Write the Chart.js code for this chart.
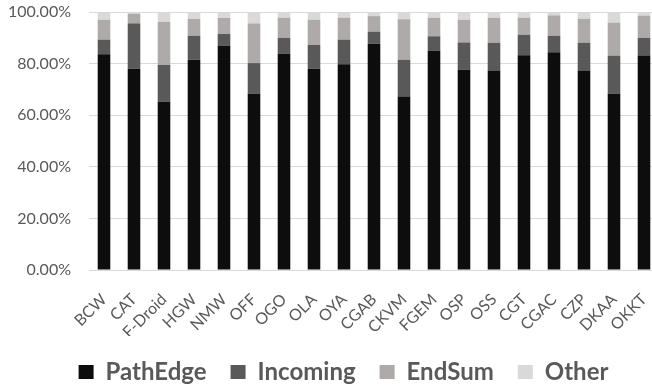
<!DOCTYPE html>
<html>
<head>
<meta charset="utf-8">
<script src="https://cdn.jsdelivr.net/npm/chart.js@4/dist/chart.umd.min.js"></script>
<style>
  html, body { margin: 0; padding: 0; background: #fff; overflow: hidden; }
  #wrap { width: 660px; height: 388px; }
</style>
</head>
<body>
<div id="wrap"><canvas id="chart"></canvas></div>
<script>
// apps on the x axis
const apps = ['BCW', 'CAT', 'F-Droid', 'HGW', 'NMW', 'OFF', 'OGO', 'OLA', 'OYA', 'CGAB',
    'CKVM', 'FGEM', 'OSP', 'OSS', 'CGT', 'CGAC', 'CZP', 'DKAA', 'OKKT'];

// share of each part, in percent
const pathEdge = [83.6, 78.0, 65.2, 81.5, 86.9, 68.3, 83.8, 78.0, 79.7, 87.7,
    67.2, 85.1, 77.6, 77.3, 83.2, 84.4, 77.3, 68.3, 83.1];
const incoming = [5.7, 17.6, 14.3, 9.3, 4.6, 11.9, 6.2, 9.2, 9.6, 4.7,
    14.3, 5.5, 10.6, 10.8, 8.0, 6.4, 10.8, 14.8, 6.9];
const endSum = [7.7, 3.7, 16.7, 6.5, 6.2, 15.4, 7.8, 9.8, 8.5, 6.0,
    15.7, 7.2, 8.8, 9.7, 6.6, 7.9, 9.3, 12.8, 8.6];
const other = [3.0, 0.7, 3.8, 2.7, 2.3, 4.4, 2.2, 3.0, 2.2, 1.6,
    2.8, 2.2, 3.0, 2.2, 2.2, 1.3, 2.6, 4.1, 1.4];

const seriesNames = ['PathEdge', 'Incoming', 'EndSum', 'Other'];
const seriesColors = ['#0d0d0d', '#595959', '#aeaaaa', '#d9d9d9'];
const seriesData = [pathEdge, incoming, endSum, other];

const yTicks = [0, 20, 40, 60, 80, 100];

const textColor = '#595959';

new Chart(document.getElementById('chart'), {
    type: 'bar',
    data: {
        labels: apps,
        datasets: seriesNames.map((name, i) => ({
            label: name,
            data: seriesData[i],
            backgroundColor: seriesColors[i],
            borderWidth: 0,
            barPercentage: 0.42,
            categoryPercentage: 1
        }))
    },
    options: {
        responsive: true,
        maintainAspectRatio: false,
        animation: false,
        // left padding keeps the legend centred where the original has it
        layout: { padding: { top: 12, right: 1, bottom: -6, left: 28 } },
        plugins: {
            tooltip: { enabled: false },
            legend: {
                position: 'bottom',
                labels: {
                    color: textColor,
                    font: { family: 'Lato', size: 24, weight: 'bold' },
                    boxWidth: 15,
                    boxHeight: 14,
                    padding: 24
                }
            }
        },
        scales: {
            x: {
                stacked: true,
                grid: { display: false },
                border: { display: true, color: '#d9d9d9', width: 1 },
                afterFit: (scale) => {
                    scale.height = 66;
                    scale.paddingLeft = 0;
                    scale.paddingRight = 0;
                },
                ticks: {
                    color: textColor,
                    font: { family: 'Lato', size: 16 },
                    autoSkip: false,
                    maxRotation: 45,
                    minRotation: 45,
                    padding: 12
                }
            },
            y: {
                stacked: true,
                min: 0,
                max: 100,
                afterBuildTicks: (scale) => { scale.ticks = yTicks.map(v => ({ value: v })); },
                afterFit: (scale) => {
                    scale.width = 61;
                    // labels are wider than the axis box, don't clip them
                    scale._computeLabelArea = () => null;
                },
                grid: { color: '#d9d9d9', drawTicks: true, tickLength: 18, tickColor: 'rgba(0,0,0,0)' },
                border: { display: false },
                ticks: {
                    color: textColor,
                    font: { family: 'Lato', size: 16 },
                    padding: 0,
                    callback: (v) => v.toFixed(2) + '%'
                }
            }
        }
    }
});
</script>
</body>
</html>
